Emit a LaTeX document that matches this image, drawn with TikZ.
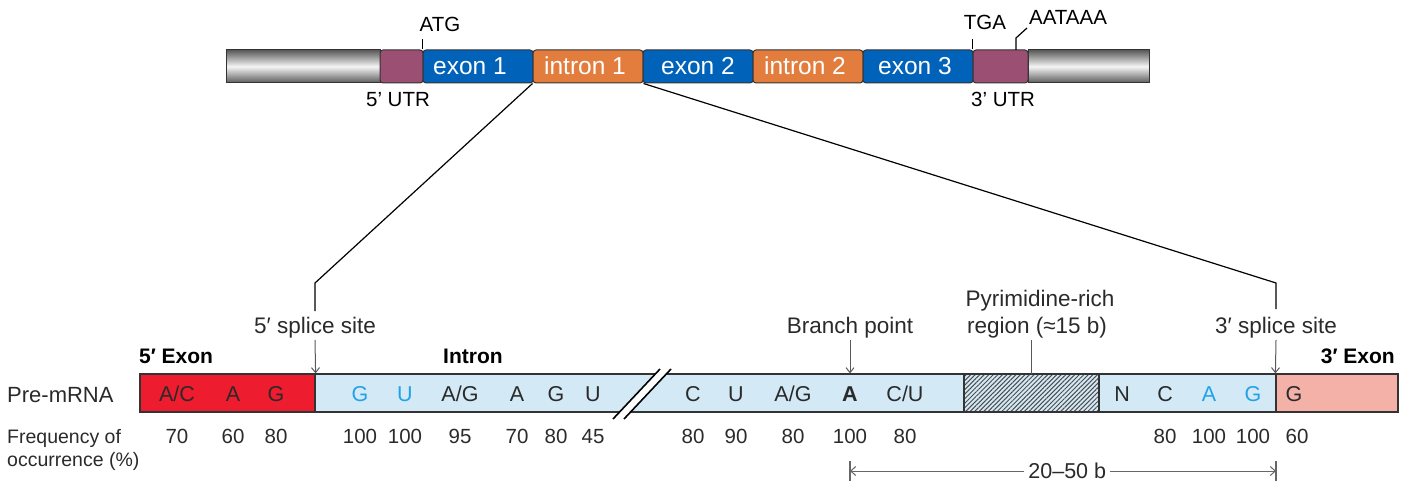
\documentclass[tikz,border=0pt]{standalone}
\usepackage{fontspec}
\setmainfont{Liberation Sans}
\usetikzlibrary{arrows.meta,patterns.meta}
\definecolor{utr}{HTML}{9B4F72}
\definecolor{exblue}{HTML}{0062B8}
\definecolor{inorange}{HTML}{E27D3E}
\definecolor{exred}{HTML}{ED1C2E}
\definecolor{inblue}{HTML}{D3E9F6}
\definecolor{expink}{HTML}{F4B1A7}
\definecolor{ntblue}{HTML}{22A2E6}
\definecolor{txt}{HTML}{2A2A2A}
\definecolor{outl}{HTML}{333333}
\begin{document}
\begin{tikzpicture}[x=1pt,y=-1pt,
  seg/.style={draw=outl, line width=1pt, rounded corners=3pt, inner sep=0pt,
    minimum height=33pt, text=white, font=\fontsize{24.5}{28}\selectfont,
    text height=17pt, text depth=0pt},
  endseg/.style={draw=outl, line width=1pt, inner sep=0pt, minimum height=33pt,
    top color=black!65, bottom color=black!65, middle color=black!4},
  toplbl/.style={font=\fontsize{20.5}{24}\selectfont, anchor=base, inner sep=0pt},
  bar/.style={draw=outl, line width=1.2pt, inner sep=0pt, minimum height=38pt},
  lbl/.style={font=\fontsize{22.5}{26}\selectfont, text=txt, anchor=base, inner sep=2pt},
  blbl/.style={font=\bfseries\fontsize{21}{25}\selectfont, text=black, anchor=base, inner sep=0pt},
  nt/.style={font=\fontsize{21.5}{25}\selectfont, text=txt, anchor=base, inner sep=0pt},
  ntb/.style={nt, text=ntblue},
  fq/.style={font=\fontsize{20.5}{24}\selectfont, text=txt, anchor=base, inner sep=0pt},
  conn/.style={draw=black, line width=1.2pt},
  tick/.style={draw=black, line width=1.2pt},
  arr/.style={draw=black!65, line width=1pt, -{Straight Barb[length=5pt,width=8pt]}},
  dim/.style={draw=black!60, line width=1pt, {Straight Barb[length=5pt,width=9pt]}-{Straight Barb[length=5pt,width=9pt]}},
  dimtick/.style={draw=black!60, line width=1.2pt}
]
\useasboundingbox (0,0) rectangle (1410,481);

% ---------------- gene ----------------
\node[endseg, minimum width=154pt] (gL) at (303,66.5) {};
\node[endseg, minimum width=121pt] (gR) at (1088.5,66.5) {};
\node[seg, fill=utr, minimum width=43pt] (u5) at (401.5,66.5) {};
\node[seg, fill=exblue, minimum width=110pt] (e1) at (478,66.5) {\hspace*{-16pt}exon 1};
\node[seg, fill=inorange, minimum width=110pt] (i1) at (588,66.5) {\hspace*{-6pt}intron 1};
\node[seg, fill=exblue, minimum width=110pt] (e2) at (698,66.5) {exon 2};
\node[seg, fill=inorange, minimum width=110pt] (i2) at (808,66.5) {\hspace*{-6pt}intron 2};
\node[seg, fill=exblue, minimum width=110pt] (e3) at (918,66.5) {\hspace*{-6pt}exon 3};
\node[seg, fill=utr, minimum width=55pt] (u3) at (1000.5,66.5) {};

\node[toplbl] (atg) at (440,32) {ATG};
\node[toplbl] (tga) at (985,30) {TGA};
\node[toplbl] (aat) at (1068,25) {AATAAA};
\node[toplbl] (utr5) at (398,107) {5’ UTR};
\node[toplbl] (utr3) at (1003,107) {3’ UTR};
\draw[tick] (e1.north west) -- ++(0,-10);
\draw[tick] (u3.north west) -- ++(0,-10);
\coordinate (pa0) at (1016,50);
\coordinate (pa1) at (1016,38);
\coordinate (pa2) at (1027,28);
\draw[tick] (pa0) -- (pa1) -- (pa2);

% ---------------- pre-mRNA ----------------
\node[bar, fill=exred, minimum width=175pt] (x5) at (227.5,393) {};
\node[bar, fill=inblue, minimum width=649pt] (iA) at (639.5,393) {};
\node[bar, preaction={fill=inblue}, pattern={Lines[angle=45,distance=3.2pt,line width=1pt]},
  pattern color=black!70, minimum width=135pt] (pyr) at (1031.5,393) {};
\node[bar, fill=inblue, minimum width=177pt] (iB) at (1187.5,393) {};
\node[bar, fill=expink, minimum width=122pt] (x3) at (1337,393) {};

% break
\fill[white] (613,419) -- (660,369) -- (671,369) -- (624,419) -- cycle;
\draw[line width=1.6pt] (613,419) -- (660,369) (624,419) -- (671,369);

% connectors from intron 1
\coordinate (k5) at (315,283);
\coordinate (k5e) at (315,311);
\coordinate (k3) at (1276,283);
\coordinate (k3e) at (1276,309);
\draw[conn] (i1.south west) -- (k5) -- (k5e);
\draw[conn] (i1.south east) -- (k3) -- (k3e);

% site labels
\node[lbl] (ss5) at (315,333) {5′ splice site};
\node[lbl] (bp) at (850,333) {Branch point};
\node[lbl] (py1) at (1040,306) {Pyrimidine-rich};
\node[lbl] (py2) at (1037,333) {region (≈15 b)};
\node[lbl] (ss3) at (1276,333) {3′ splice site};
\draw[arr] (ss5.south) -- (x5.north east);
\draw[arr] (bp.south) -- (bp.south |- iA.north);
\draw[arr] (ss3.south) -- (x3.north west);
\draw[draw=black!65, line width=1pt] (py2.south -| pyr.north) -- (pyr.north);

% headings
\node[blbl, anchor=base west] (h5) at (139,363) {5′ Exon};
\node[blbl, anchor=base west] (hi) at (443,363) {Intron};
\node[blbl, anchor=base east] (h3) at (1395,363) {3′ Exon};
\node[lbl, anchor=base west, inner sep=0pt, font=\fontsize{22}{26}\selectfont] (pre) at (7,402) {Pre-mRNA};
\node[lbl, anchor=base west, inner sep=0pt, font=\fontsize{19.5}{24}\selectfont] (fr1) at (7,443) {Frequency of};
\node[lbl, anchor=base west, inner sep=0pt, font=\fontsize{19.5}{24}\selectfont] (fr2) at (7,466) {occurrence (\%)};

% nucleotides
\node[nt] (n1) at (177,401) {A/C};
\node[nt] (n2) at (233,401) {A};
\node[nt] (n3) at (276,401) {G};
\node[ntb] (n4) at (360,401) {G};
\node[ntb] (n5) at (405,401) {U};
\node[nt] (n6) at (460,401) {A/G};
\node[nt] (n7) at (517,401) {A};
\node[nt] (n8) at (556,401) {G};
\node[nt] (n9) at (593,401) {U};
\node[nt] (n10) at (693,401) {C};
\node[nt] (n11) at (736,401) {U};
\node[nt] (n12) at (793,401) {A/G};
\node[nt, font=\bfseries\fontsize{21.5}{25}\selectfont] (n13) at (850,401) {A};
\node[nt] (n14) at (905,401) {C/U};
\node[nt] (n15) at (1122,401) {N};
\node[nt] (n16) at (1165,401) {C};
\node[ntb] (n17) at (1209,401) {A};
\node[ntb] (n18) at (1253,401) {G};
\node[nt] (n19) at (1294,401) {G};

% frequencies
\foreach \x/\v [count=\k] in {177/70,233/60,276/80,360/100,405/100,460/95,517/70,556/80,593/45,
  693/80,736/90,793/80,850/100,905/80,1165/80,1209/100,1253/100,1297/60}
  \node[fq] (f\k) at (\x,443) {\v};

% dimension
\coordinate (d1) at (850,471);
\coordinate (d2) at (1276,471);
\draw[dim] (d1) -- (d2) node[pos=0.51, fill=white, inner sep=4pt, font=\fontsize{21.5}{25}\selectfont, text=txt] (dl) {20–50 b};
\draw[dimtick] (d1) ++(0,-10) -- ++(0,20);
\draw[dimtick] (d2) ++(0,-10) -- ++(0,20);
\end{tikzpicture}
\end{document}
